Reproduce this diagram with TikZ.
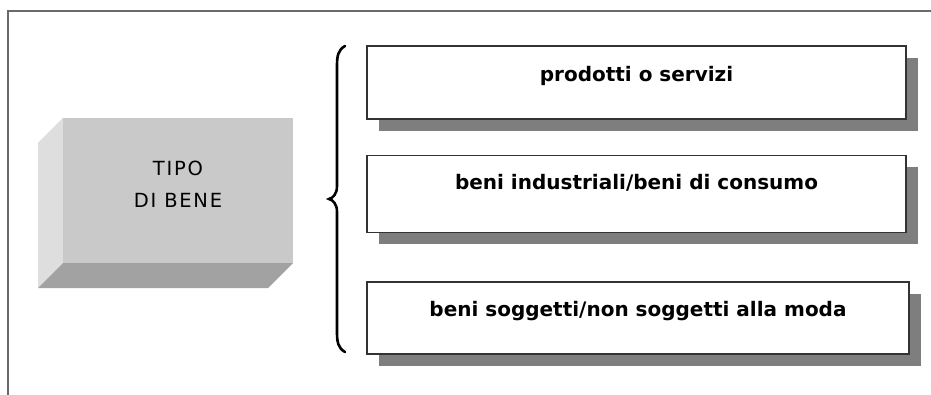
\documentclass[tikz,border=0pt]{standalone}
\usepackage{fontspec}
\setmainfont{DejaVu Sans}
\usetikzlibrary{shadows}
\definecolor{framegray}{HTML}{6A6A6A}
\definecolor{boxline}{HTML}{333333}
\definecolor{shadowgray}{HTML}{7E7E7E}
\definecolor{frontgray}{HTML}{C9C9C9}
\definecolor{sidegray}{HTML}{DEDEDE}
\definecolor{bottomgray}{HTML}{A2A2A2}
\tikzset{
  x=1pt, y=-1pt,
  itembox/.style={draw=boxline, line width=1.1pt, fill=white, minimum width=539pt, minimum height=73pt, inner sep=0pt,
    drop shadow={shadow xshift=12pt, shadow yshift=-12pt, fill=shadowgray, opacity=1}},
  itemtext/.style={font=\fontsize{20}{24}\selectfont\bfseries, text=black, inner sep=0pt, anchor=base},
}
\begin{document}
\begin{tikzpicture}
\useasboundingbox (0,0) rectangle (931,395);
\fill[white] (0,0) rectangle (931,395);
% frame
\coordinate (ftl) at (8,11);
\coordinate (ftr) at (931,11);
\coordinate (fbl) at (8,395);
\draw[framegray, line width=2pt] (fbl) -- (ftl) -- (ftr);
% 3D block
\fill[sidegray] (63,118) -- (38,143) -- (38,288) -- (63,263) -- cycle;
\fill[bottomgray] (63,263) -- (293,263) -- (268,288) -- (38,288) -- cycle;
\node[fill=frontgray, minimum width=230pt, minimum height=145pt, inner sep=0pt] (tipo) at (178,190.5) {};
\node[align=center, inner sep=0pt, anchor=base, text=black,
  font=\fontsize{19.5}{32}\selectfont\addfontfeature{LetterSpace=9}] (tipotext) at ([yshift=-17.5pt]tipo.center) {TIPO\\DI BENE};
% brace
\draw[black, line width=2.6pt, line cap=round]
  (345,46) .. controls (338,50) and (337,56) .. (337,66) -- (337,186)
  .. controls (337,194) and (333,198) .. (329,199)
  .. controls (333,200) and (337,204) .. (337,212) -- (337,332)
  .. controls (337,342) and (338,348) .. (345,352);
% boxes
\node[itembox] (b1) at (636.5,82.5) {};
\node[itembox, minimum height=77pt] (b2) at (636.5,194) {};
\node[itembox, minimum width=542pt, minimum height=72pt] (b3) at (638,318) {};
\node[itemtext] (t1) at ([yshift=-36pt]b1.north) {prodotti o servizi};
\node[itemtext] (t2) at ([yshift=-35pt]b2.north) {beni industriali/beni di consumo};
\node[itemtext] (t3) at ([yshift=-35pt]b3.north) {beni soggetti/non soggetti alla moda};
\end{tikzpicture}
\end{document}
